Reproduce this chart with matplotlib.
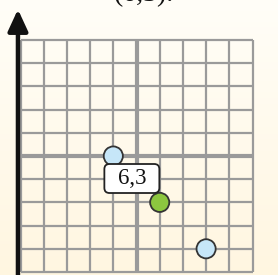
import numpy as np
import matplotlib
matplotlib.use("Agg")
import matplotlib.pyplot as plt
from matplotlib.patches import FancyBboxPatch

# data
point_x = [4, 6, 8]
point_y = [5, 3, 1]
point_colors = ["#c6e6f8", "#8cc63f", "#c6e6f8"]
label_text = "6,3"
label_point = (6, 3)
title_text = "(6,3)."
grid_max = 10

W, H = 278, 275
fig = plt.figure(figsize=(W / 100, H / 100), dpi=100)

# background gradient
bg = fig.add_axes([0, 0, 1, 1], zorder=-10)
grad = np.linspace(0, 1, 256).reshape(-1, 1)
top = np.array([1.0, 0.995, 0.972])
bot = np.array([1.0, 0.965, 0.88])
img = top[None, None, :] * (1 - grad[:, :, None]) + bot[None, None, :] * grad[:, :, None]
bg.imshow(img, aspect="auto", extent=[0, 1, 0, 1])
bg.axis("off")

ax = fig.add_axes([0, 0, 1, 1])
ax.patch.set_alpha(0)
step = 23.2
x0p, y0p = 20.5, 272.0
ax.set_xlim(-x0p / step, (W - x0p) / step)
ax.set_ylim(-(H - y0p) / step, y0p / step)
ax.axis("off")

vals = range(grid_max + 1)
for v in vals:
    lw = 3.0 if v == 5 else 1.6
    ax.vlines(v, 0, grid_max, color="#9a9a9a", lw=lw, zorder=1)
    ax.hlines(v, 0, grid_max, color="#9a9a9a", lw=lw, zorder=1)

# axes arrows
ax.annotate("", xy=(-0.11, 11.32), xytext=(-0.11, -0.13),
            arrowprops=dict(arrowstyle="-|>,head_length=1.3,head_width=0.6",
                            lw=3.2, color="#111111", shrinkA=0, shrinkB=0), zorder=3)
ax.annotate("", xy=(11.6, -0.05), xytext=(-0.2, -0.05),
            arrowprops=dict(arrowstyle="-|>,head_length=1.3,head_width=0.6",
                            lw=3.2, color="#111111", shrinkA=0, shrinkB=0), zorder=3)

ax.scatter(point_x, point_y, s=190, c=point_colors, edgecolors="#333333",
           linewidths=1.3, zorder=5)

# label box
bw, bh = 2.37, 1.25
cx, cy = 4.8, 4.03
box = FancyBboxPatch((cx - bw / 2, cy - bh / 2), bw, bh,
                     boxstyle="round,pad=0,rounding_size=0.22",
                     fc="white", ec="#222222", lw=1.3, zorder=6)
ax.add_patch(box)
ax.text(cx, cy, label_text, ha="center", va="center",
        fontsize=16.5, family="Liberation Serif", color="#111111", zorder=7)

fig.text(144 / W, 1 - 1 / H, title_text, ha="center", va="baseline",
         fontsize=20, family="Liberation Serif", color="#111111")

fig.savefig("out.png", dpi=100)
